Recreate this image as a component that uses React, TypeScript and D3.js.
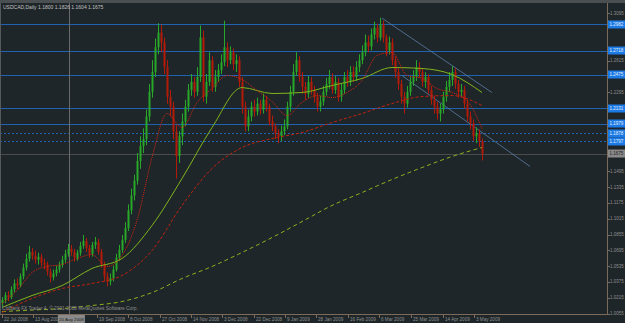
import React from "react";
import * as d3 from "d3";

const W = 625;
const H = 323;

const symbolTitle = "USDCAD,Daily  1.1800 1.1826 1.1604 1.1675";
const copyright = "CitiBank FX Trader 4, \u00a9 2001-2008 MetaQuotes Software Corp.";

const firstOpen = 1.016;
const closes = [
  1.019, 1.024, 1.022, 1.030, 1.036, 1.034, 1.043, 1.052, 1.061, 1.068,
  1.064, 1.060, 1.063, 1.057, 1.055, 1.048, 1.042, 1.046, 1.050, 1.055,
  1.060, 1.066, 1.071, 1.068, 1.062, 1.067, 1.074, 1.079, 1.072, 1.066,
  1.075, 1.078, 1.068, 1.055, 1.043, 1.038, 1.041, 1.050, 1.062, 1.070,
  1.080, 1.092, 1.110, 1.125, 1.140, 1.160, 1.175, 1.182, 1.205, 1.230,
  1.250, 1.275, 1.290, 1.280, 1.255, 1.225, 1.215, 1.190, 1.165, 1.185,
  1.200, 1.215, 1.232, 1.240, 1.230, 1.245, 1.285, 1.225, 1.240, 1.262,
  1.235, 1.245, 1.252, 1.260, 1.275, 1.262, 1.270, 1.258, 1.262, 1.240,
  1.215, 1.195, 1.205, 1.215, 1.210, 1.218, 1.212, 1.222, 1.215, 1.200,
  1.195, 1.188, 1.185, 1.190, 1.195, 1.215, 1.230, 1.250, 1.262, 1.245,
  1.235, 1.228, 1.240, 1.232, 1.225, 1.215, 1.220, 1.230, 1.238, 1.245,
  1.232, 1.240, 1.225, 1.232, 1.245, 1.240, 1.250, 1.245, 1.255, 1.262,
  1.270, 1.280, 1.276, 1.288, 1.295, 1.285, 1.298, 1.285, 1.272, 1.280,
  1.262, 1.250, 1.238, 1.225, 1.218, 1.230, 1.240, 1.245, 1.255, 1.250,
  1.240, 1.245, 1.232, 1.222, 1.215, 1.208, 1.212, 1.225, 1.235, 1.242,
  1.250, 1.238, 1.230, 1.232, 1.218, 1.205, 1.198, 1.185, 1.188, 1.180,
  1.1675,
];
const highs = [
  1.022, 1.027, 1.028, 1.033, 1.040, 1.041, 1.046, 1.056, 1.066, 1.074,
  1.072, 1.069, 1.067, 1.066, 1.061, 1.058, 1.051, 1.050, 1.054, 1.058,
  1.064, 1.070, 1.076, 1.075, 1.071, 1.070, 1.078, 1.085, 1.082, 1.075,
  1.078, 1.083, 1.081, 1.071, 1.058, 1.047, 1.046, 1.054, 1.066, 1.075,
  1.085, 1.098, 1.116, 1.132, 1.146, 1.168, 1.185, 1.193, 1.212, 1.238,
  1.262, 1.284, 1.2995, 1.298, 1.285, 1.262, 1.232, 1.220, 1.196, 1.190,
  1.208, 1.222, 1.238, 1.248, 1.245, 1.255, 1.297, 1.292, 1.248, 1.270,
  1.266, 1.252, 1.258, 1.268, 1.302, 1.280, 1.276, 1.274, 1.268, 1.266,
  1.245, 1.220, 1.212, 1.220, 1.222, 1.224, 1.222, 1.228, 1.226, 1.218,
  1.206, 1.198, 1.192, 1.196, 1.202, 1.220, 1.236, 1.258, 1.270, 1.266,
  1.250, 1.240, 1.246, 1.245, 1.236, 1.229, 1.226, 1.236, 1.244, 1.252,
  1.249, 1.246, 1.244, 1.238, 1.250, 1.252, 1.256, 1.256, 1.261, 1.268,
  1.277, 1.288, 1.287, 1.294, 1.301, 1.299, 1.305, 1.302, 1.288, 1.286,
  1.284, 1.266, 1.254, 1.242, 1.230, 1.236, 1.246, 1.252, 1.262, 1.260,
  1.254, 1.250, 1.248, 1.236, 1.226, 1.220, 1.218, 1.230, 1.241, 1.250,
  1.256, 1.254, 1.242, 1.238, 1.236, 1.222, 1.210, 1.202, 1.194, 1.192,
  1.1826,
];
const lows = [
  1.013, 1.016, 1.018, 1.020, 1.027, 1.030, 1.032, 1.040, 1.049, 1.058,
  1.060, 1.056, 1.055, 1.053, 1.050, 1.044, 1.037, 1.039, 1.043, 1.047,
  1.052, 1.057, 1.063, 1.064, 1.058, 1.059, 1.064, 1.071, 1.068, 1.062,
  1.063, 1.071, 1.065, 1.052, 1.038, 1.033, 1.034, 1.038, 1.048, 1.059,
  1.067, 1.077, 1.089, 1.106, 1.120, 1.136, 1.152, 1.168, 1.176, 1.200,
  1.224, 1.245, 1.268, 1.270, 1.248, 1.218, 1.205, 1.182, 1.142, 1.158,
  1.176, 1.195, 1.210, 1.226, 1.224, 1.226, 1.240, 1.220, 1.218, 1.236,
  1.230, 1.230, 1.240, 1.248, 1.256, 1.255, 1.258, 1.252, 1.250, 1.235,
  1.208, 1.190, 1.190, 1.200, 1.205, 1.206, 1.207, 1.208, 1.210, 1.196,
  1.190, 1.182, 1.178, 1.180, 1.186, 1.192, 1.210, 1.226, 1.246, 1.240,
  1.228, 1.222, 1.224, 1.227, 1.219, 1.210, 1.210, 1.216, 1.226, 1.233,
  1.228, 1.228, 1.220, 1.220, 1.228, 1.235, 1.236, 1.240, 1.241, 1.250,
  1.258, 1.266, 1.270, 1.272, 1.283, 1.280, 1.282, 1.280, 1.266, 1.268,
  1.257, 1.244, 1.232, 1.218, 1.208, 1.214, 1.226, 1.236, 1.241, 1.244,
  1.235, 1.234, 1.228, 1.217, 1.208, 1.202, 1.200, 1.208, 1.220, 1.230,
  1.236, 1.233, 1.224, 1.225, 1.213, 1.200, 1.192, 1.180, 1.178, 1.174,
  1.1604,
];

// moving averages, one value every `step` bars
const ma200Step = 10;
const ma200 = [1.0075, 1.009, 1.0105, 1.0136, 1.0176, 1.0267, 1.0409, 1.0531, 1.0673, 1.0824, 1.0986, 1.1149, 1.128, 1.1412, 1.1533, 1.1645, 1.1736];
const maSlowStep = 10;
const maSlow = [1.0065, 1.0207, 1.0308, 1.0359, 1.044, 1.0693, 1.1149, 1.1523, 1.1736, 1.1827, 1.1888, 1.1989, 1.208, 1.2181, 1.2252, 1.2262, 1.2161];
const maMidStep = 10;
const maMid = [1.0116, 1.0237, 1.0338, 1.0511, 1.0612, 1.0946, 1.1422, 1.1938, 1.2343, 1.2283, 1.2293, 1.2364, 1.2435, 1.2546, 1.2536, 1.2475, 1.2293];
const maFastStep = 5;
const maFast = [
  1.0156, 1.0288, 1.047, 1.0531, 1.0551, 1.0612, 1.0652, 1.0531, 1.0642, 1.0997,
  1.1635, 1.208, 1.1938, 1.2192, 1.2333, 1.2465, 1.2425, 1.2313, 1.2202, 1.206,
  1.2192, 1.2262, 1.2242, 1.2293, 1.2414, 1.2668, 1.2698, 1.2465, 1.2435, 1.2333,
  1.2293, 1.2212, 1.1928,
];

const priceTicks = [
  "1.0055", "1.0215", "1.0375", "1.0535", "1.0695", "1.0855", "1.1015", "1.1175", "1.1335", "1.1495",
  "1.1655", "1.1815", "1.1975", "1.2135", "1.2295", "1.2455", "1.2615", "1.2775", "1.2935", "1.3095",
];

const levelPrices = [1.2982, 1.2718, 1.2475, 1.2131, 1.1979, 1.1878, 1.1797];
const levelDashed = [false, false, false, false, false, true, true];
const currentPrice = 1.1675;

// trend lines: [bar index, price] pairs
const trendUpper = [[126.7, 1.3045], [163.3, 1.2293]];
const trendLower = [[133.3, 1.2465], [176, 1.1544]];

const dateLabels = ["22 Jul 2008", "13 Aug 2008", "19 Sep 2008", "8 Oct 2008", "27 Oct 2008", "14 Nov 2008", "3 Dec 2008", "22 Dec 2008", "9 Jan 2009", "28 Jan 2009", "16 Feb 2009", "6 Mar 2009", "25 Mar 2009", "14 Apr 2009", "3 May 2009"];
const dateBars = [0, 10.3, 31.7, 42, 52.7, 63, 73.3, 84, 94.3, 104.7, 115.3, 125.7, 136.3, 147, 157.3];
const markerDate = "20 Aug 2008";
const markerBar = 22.3;

const BG = "#1f2629";
const AXIS = "#7d6a58";
const TXT = "#8e8e8e";
const BULL = "#28a828";
const BEAR = "#b41a08";
const LEVEL = "#1f62b0";
const FONT = "Liberation Sans, Arial, sans-serif";

export default function App() {
  const plotRight = 607;
  const axisY = 314;
  const x = d3.scaleLinear().domain([0, 160]).range([2, 482]);
  const y = d3.scaleLinear().domain([1.0055, 1.0055 + 0.016 * 19]).range([313.5, 313.5 - 15.8 * 19]);

  const line = d3.line<[number, number]>().x((d) => d[0]).y((d) => d[1]).curve(d3.curveMonotoneX);
  const maPath = (vals: number[], step: number) =>
    line(vals.map((v, k) => [x(k * step), y(v)] as [number, number])) || "";

  const candles = closes.map((c, i) => {
    const o = i === 0 ? firstOpen : closes[i - 1];
    return { i, o, c, h: highs[i], l: lows[i] };
  });

  const boxed = [...levelPrices, currentPrice];
  const visibleTicks = priceTicks.filter((t) => boxed.every((p) => Math.abs(y(p) - y(+t)) > 6));
  const mx = x(markerBar);

  return (
    <svg width={W} height={H} style={{ position: "absolute", left: 0, top: 0, display: "block" }} fontFamily={FONT}>
      <rect x={0} y={0} width={W} height={H} fill={BG} />
      <rect x={0} y={0} width={W} height={3} fill="#4a4f52" />

      {/* levels */}
      {levelPrices.map((p, k) => (
        <line key={"lv" + k} x1={0} x2={plotRight} y1={Math.round(y(p)) + 0.5} y2={Math.round(y(p)) + 0.5}
          stroke={LEVEL} strokeWidth={1} strokeDasharray={levelDashed[k] ? "2,2" : undefined} />
      ))}
      <line x1={0} x2={plotRight} y1={Math.round(y(currentPrice)) + 0.5} y2={Math.round(y(currentPrice)) + 0.5} stroke="#4b4b4b" />

      {/* vertical marker */}
      <line x1={Math.round(mx) + 0.5} x2={Math.round(mx) + 0.5} y1={3} y2={axisY} stroke="#6a6a6a" />
      <line x1={0.5} x2={0.5} y1={3} y2={axisY} stroke="#55595b" />

      {/* trend lines */}
      {[trendUpper, trendLower].map((t, k) => (
        <line key={"tl" + k} x1={x(t[0][0])} y1={y(t[0][1])} x2={x(t[1][0])} y2={y(t[1][1])} stroke="#5a7ea6" strokeWidth={0.8} />
      ))}

      {/* candles */}
      {candles.map((d) => {
        const cx = Math.round(x(d.i));
        const col = d.c >= d.o ? BULL : BEAR;
        const top = Math.min(y(d.o), y(d.c));
        const bh = Math.max(1, Math.abs(y(d.o) - y(d.c)));
        return (
          <g key={d.i}>
            <line x1={cx + 0.5} x2={cx + 0.5} y1={y(d.h)} y2={y(d.l)} stroke={col} strokeWidth={1} />
            <rect x={cx - 0.5} y={top} width={2} height={bh} fill={col} />
          </g>
        );
      })}

      {/* moving averages */}
      <path d={maPath(ma200, ma200Step)} fill="none" stroke="#8fae1e" strokeWidth={1} strokeDasharray="4,3" />
      <path d={maPath(maSlow, maSlowStep)} fill="none" stroke="#c0220e" strokeWidth={1} strokeDasharray="3,2" />
      <path d={maPath(maMid, maMidStep)} fill="none" stroke="#7fb51c" strokeWidth={1} />
      <path d={maPath(maFast, maFastStep)} fill="none" stroke="#d8240f" strokeWidth={1} strokeDasharray="1,1" />

      {/* axes */}
      <line x1={plotRight + 0.5} x2={plotRight + 0.5} y1={3} y2={axisY + 0.5} stroke={AXIS} />
      <line x1={0} x2={plotRight + 0.5} y1={axisY + 0.5} y2={axisY + 0.5} stroke={AXIS} />

      {visibleTicks.map((t, k) => {
        const py = y(+t);
        return (
          <g key={"pt" + k}>
            <line x1={plotRight} x2={plotRight + 3} y1={Math.round(py) + 0.5} y2={Math.round(py) + 0.5} stroke={AXIS} />
            <text x={610} y={py} dy="0.35em" fontSize={4.5} fill={TXT}>{t}</text>
          </g>
        );
      })}

      {levelPrices.map((p, k) => (
        <g key={"lb" + k}>
          <rect x={608} y={y(p) - 4} width={17} height={8} fill="#1c7ae6" />
          <text x={609.5} y={y(p)} dy="0.35em" fontSize={4.5} fill="#e6eef8">{p.toFixed(4)}</text>
        </g>
      ))}
      <rect x={608} y={y(currentPrice) - 4} width={17} height={8} fill="#8a8a8a" />
      <text x={609.5} y={y(currentPrice)} dy="0.35em" fontSize={4.5} fill="#222">{currentPrice.toFixed(4)}</text>

      {dateLabels.map((t, k) => {
        const lx = Math.round(x(dateBars[k]));
        return (
          <g key={"dl" + k}>
            <line x1={lx + 0.5} x2={lx + 0.5} y1={axisY} y2={axisY + 4} stroke={AXIS} />
            <text x={lx + 2} y={321} fontSize={4.6} fill={TXT}>{t}</text>
          </g>
        );
      })}
      <rect x={mx - 11} y={315} width={27} height={8} fill="#8a8a8a" />
      <text x={mx + 2.5} y={321} fontSize={4.4} fill="#222" textAnchor="middle">{markerDate}</text>

      <text x={3} y={9} fontSize={5} fill="#c0c0c0">{symbolTitle}</text>
      <text x={2} y={310} fontSize={4.8} fill={TXT}>{copyright}</text>
    </svg>
  );
}
